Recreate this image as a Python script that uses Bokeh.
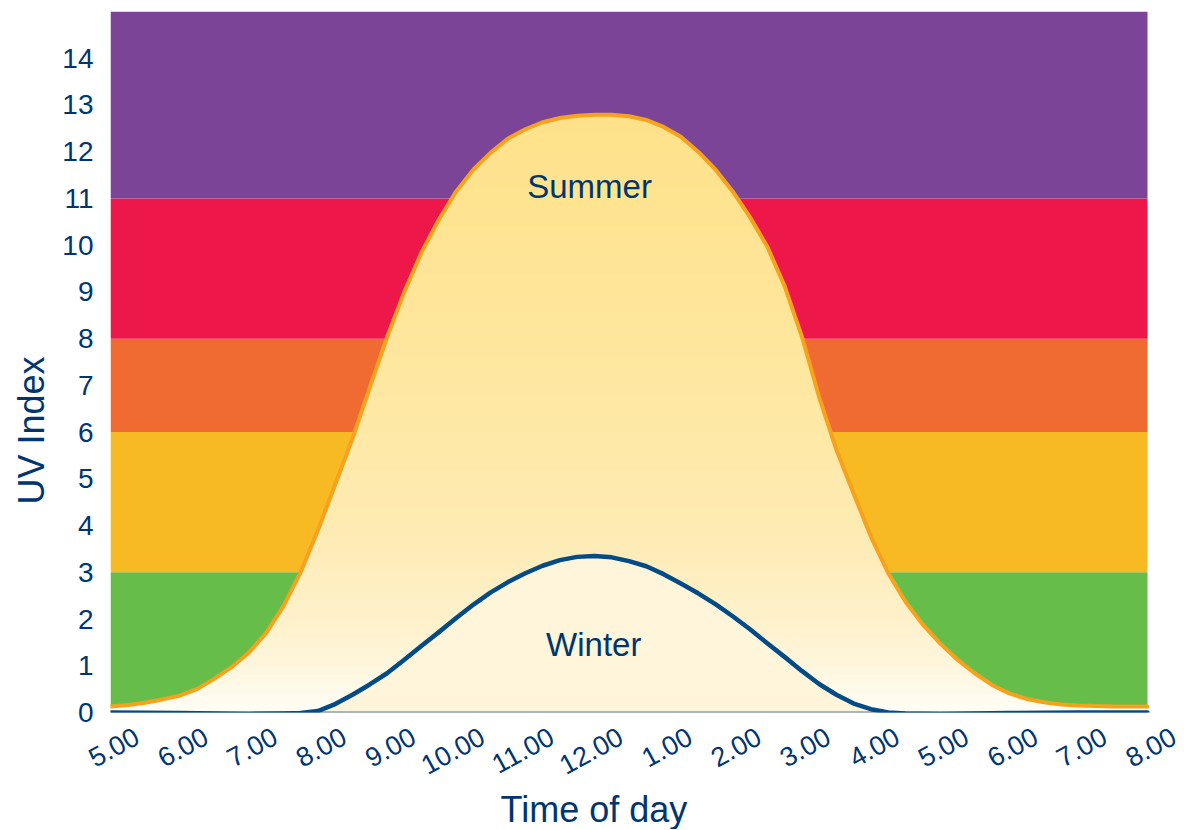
from bokeh.plotting import figure
from bokeh.models import Range1d, FixedTicker, Label, LinearAxis, Title
from bokeh.embed import file_html
from bokeh.resources import INLINE
import numpy as np

# ---------------- data ----------------
hour_ticks = [5, 6, 7, 8, 9, 10, 11, 12, 13, 14, 15, 16, 17, 18, 19, 20]
hour_labels = ["5.00", "6.00", "7.00", "8.00", "9.00", "10.00", "11.00", "12.00",
               "1.00", "2.00", "3.00", "4.00", "5.00", "6.00", "7.00", "8.00"]
uv_ticks = [0, 1, 2, 3, 4, 5, 6, 7, 8, 9, 10, 11, 12, 13, 14]

band_low = [0, 3, 6, 8, 11]
band_high = [3, 6, 8, 11, 15]
band_colors = ["#67BD4A", "#F7BA23", "#F06B32", "#ED174A", "#7B4497"]

summer_time = [5.0, 5.25, 5.5, 5.75, 6.0, 6.25, 6.5, 6.75, 7.0, 7.25, 7.5, 7.75,
               8.0, 8.25, 8.5, 8.75, 9.0, 9.25, 9.5, 9.75, 10.0, 10.25, 10.5, 10.75,
               11.0, 11.25, 11.5, 11.75, 12.0, 12.25, 12.5, 12.75, 13.0, 13.25, 13.5,
               13.75, 14.0, 14.25, 14.5, 14.75, 15.0, 15.25, 15.5, 15.75, 16.0, 16.25,
               16.5, 16.75, 17.0, 17.25, 17.5, 17.75, 18.0, 18.25, 18.5, 18.75, 19.0,
               19.5, 20.0]
summer_uv = [0.13, 0.16, 0.21, 0.28, 0.36, 0.50, 0.72, 0.97, 1.28, 1.70, 2.27, 3.0,
             3.90, 4.88, 5.86, 6.95, 8.03, 9.0, 9.85, 10.55, 11.15, 11.62, 11.98, 12.28,
             12.48, 12.63, 12.72, 12.77, 12.79, 12.79, 12.76, 12.68, 12.53, 12.32, 12.0,
             11.62, 11.15, 10.6, 9.97, 9.13, 8.05, 6.75, 5.62, 4.68, 3.76, 2.98,
             2.37, 1.88, 1.48, 1.13, 0.84, 0.59, 0.41, 0.29, 0.22, 0.17, 0.15,
             0.13, 0.13]

winter_time = [5.0, 6.0, 7.0, 7.5, 7.75, 8.0, 8.25, 8.5, 8.75, 9.0, 9.25, 9.5, 9.75,
               10.0, 10.25, 10.5, 10.75, 11.0, 11.25, 11.5, 11.75, 12.0, 12.25, 12.5,
               12.75, 13.0, 13.25, 13.5, 13.75, 14.0, 14.25, 14.5, 14.75, 15.0, 15.25,
               15.5, 15.75, 16.0, 16.25, 16.5, 17.0, 18.0, 19.0, 20.0]
winter_uv = [0.0, -0.01, -0.03, -0.02, -0.01, 0.03, 0.18, 0.38, 0.6, 0.84, 1.13, 1.43,
             1.72, 2.02, 2.31, 2.57, 2.79, 2.98, 3.14, 3.26, 3.33, 3.35, 3.32, 3.24,
             3.13, 2.96, 2.76, 2.55, 2.32, 2.06, 1.78, 1.48, 1.19, 0.89, 0.61,
             0.38, 0.19, 0.07, 0.0, -0.02, -0.03, -0.01, 0.0, 0.0]

NAVY = "#00356F"
FONT = "Liberation Sans"
LABEL_SHIFT = 0.38   # hours: centres the slanted hour labels under their ticks

# ---------------- layout ----------------
W, H = 1183, 829
BL, BR, BT, BB = 110, 5, 11, 117
FRAME_W = W - BL - BR
T0, T1 = hour_ticks[0], hour_ticks[-1]
X_END = T0 + (T1 - T0) * FRAME_W / 1037.0   # white margin right of the last hour

p = figure(width=W, height=H, x_range=Range1d(T0, X_END), y_range=Range1d(0, 15),
           output_backend="svg", toolbar_location=None, x_axis_location=None,
           min_border_left=BL, min_border_right=BR, min_border_top=BT,
           min_border_bottom=BB)
p.outline_line_color = None
p.grid.visible = False
p.background_fill_color = "white"

# UV bands
p.quad(left=T0, right=T1, bottom=band_low, top=band_high, fill_color=band_colors,
       line_color=None)

# Summer area with vertical gradient (top strip first, lower strips drawn over it)
st = np.array(summer_time)
su = np.array(summer_uv)
stops_y = [0.0, 1.0, 2.0, 4.0, 8.0, 13.0]
stops_c = [(255, 253, 247), (254, 246, 220), (254, 241, 203), (254, 235, 178),
           (254, 230, 156), (254, 225, 137)]
step = 0.2
levels = np.arange(step, 13.0 + step, step)
for h in levels[::-1]:
    yc = h - step / 2
    r = np.interp(yc, stops_y, [c[0] for c in stops_c])
    g = np.interp(yc, stops_y, [c[1] for c in stops_c])
    b = np.interp(yc, stops_y, [c[2] for c in stops_c])
    col = "#%02x%02x%02x" % (int(round(r)), int(round(g)), int(round(b)))
    p.varea(x=st, y1=0, y2=np.minimum(su, h), fill_color=col)

# Winter fill
wt = np.array(winter_time)
wu = np.array(winter_uv)
p.varea(x=wt, y1=0, y2=np.maximum(wu, 0), fill_color="#FEF5DA")

# baseline of the time axis
p.segment(x0=T0, x1=T1, y0=0, y1=0, line_color="#5A7496", line_width=2)

# curves
p.line(summer_time, summer_uv, line_color="#F6A21C", line_width=4, line_cap="round",
       line_join="round")
p.line(winter_time, winter_uv, line_color="#034B87", line_width=4.5, line_cap="round",
       line_join="round")

# x axis (hour labels), on a range shifted so the slanted labels sit centred on ticks
p.extra_x_ranges = {"hours": Range1d(T0 - LABEL_SHIFT, X_END - LABEL_SHIFT)}
xa = LinearAxis(x_range_name="hours", ticker=FixedTicker(ticks=hour_ticks))
xa.major_label_overrides = {t: l for t, l in zip(hour_ticks, hour_labels)}
xa.major_label_orientation = 0.5
xa.major_label_text_font = FONT
xa.major_label_text_font_size = "27px"
xa.major_label_text_color = NAVY
xa.major_tick_line_color = None
xa.minor_tick_line_color = None
xa.major_tick_out = 0
xa.major_tick_in = 0
xa.major_label_standoff = 22
xa.axis_line_color = None
p.add_layout(xa, "below")

ya = p.yaxis[0]
ya.ticker = FixedTicker(ticks=uv_ticks)
ya.major_label_text_font = FONT
ya.major_label_text_font_size = "28px"
ya.major_label_text_color = NAVY
ya.major_tick_line_color = None
ya.minor_tick_line_color = None
ya.major_tick_out = 0
ya.major_tick_in = 0
ya.major_label_standoff = 17
ya.axis_line_color = None

# axis titles
p.add_layout(Title(text="Time of day", text_font=FONT, text_font_size="36px",
                   text_font_style="normal", text_color=NAVY, align="left",
                   offset=390, standoff=0), "below")
p.add_layout(Title(text="UV Index", text_font=FONT, text_font_size="36px",
                   text_font_style="normal", text_color=NAVY, align="left",
                   offset=208, standoff=16), "left")

# curve names
p.add_layout(Label(x=11.93, y=11.25, text="Summer", text_font=FONT, text_font_size="33px",
                   text_color=NAVY, text_align="center", text_baseline="middle"))
p.add_layout(Label(x=11.99, y=1.45, text="Winter", text_font=FONT, text_font_size="33px",
                   text_color=NAVY, text_align="center", text_baseline="middle"))

open("out.html", "w").write(file_html(p, INLINE))
